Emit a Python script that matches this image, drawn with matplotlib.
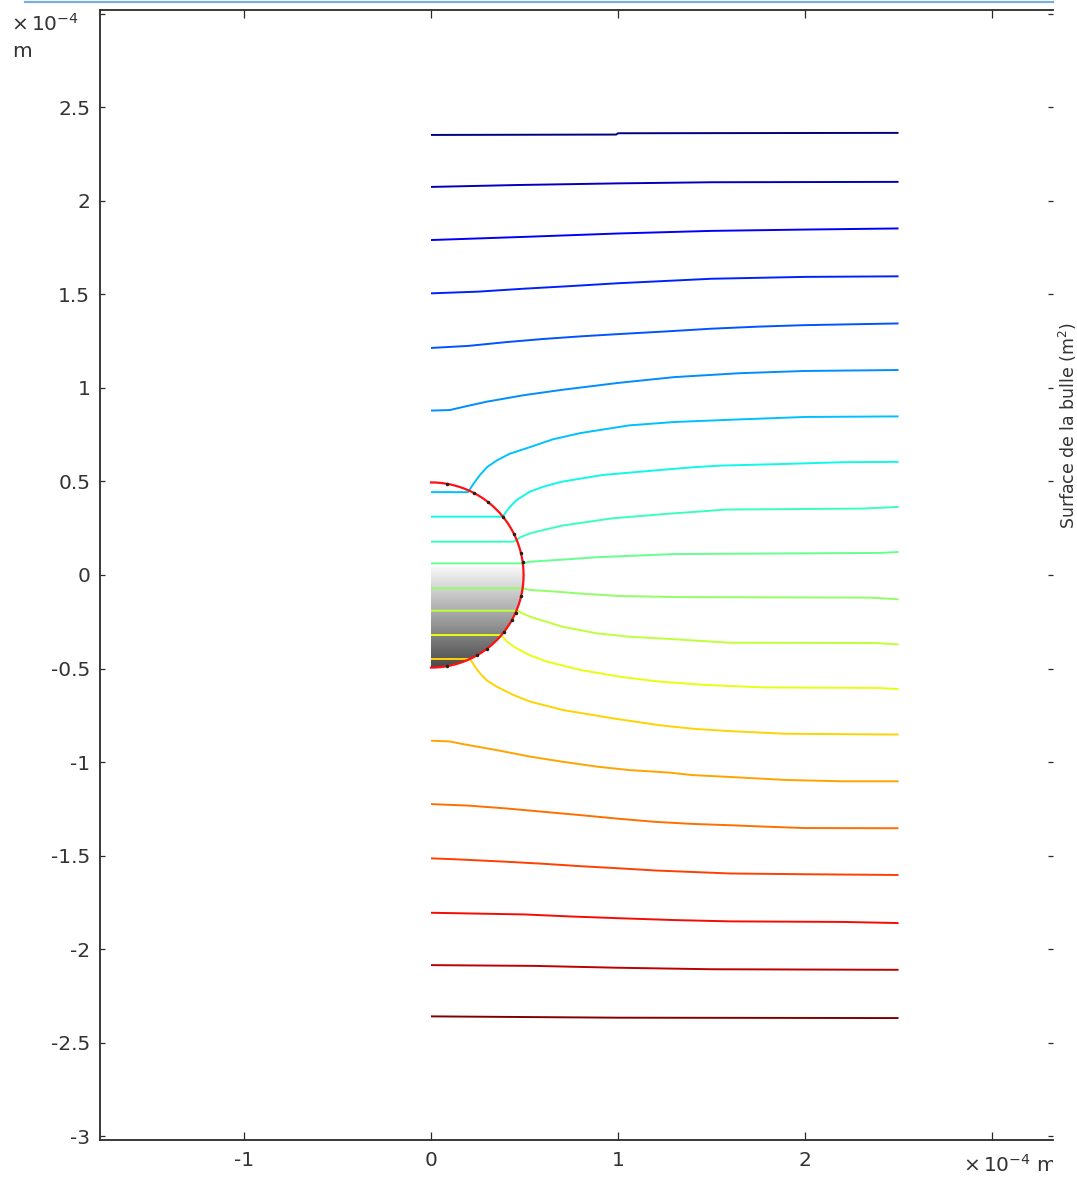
import numpy as np
import matplotlib
matplotlib.use("Agg")
import matplotlib.pyplot as plt
from matplotlib.patches import Circle
from matplotlib.lines import Line2D
from matplotlib.transforms import Bbox, TransformedBbox

plt.rcParams["axes.unicode_minus"] = False
plt.rcParams["font.family"] = ["DejaVu Sans"]

# Streamlines (coordinates in units of 1e-4 m), listed from top to bottom
sl01_x = [0, 0.99, 1.0, 2.5]
sl01_y = [2.353, 2.355, 2.362, 2.364]
sl02_x = [0, 0.45, 1.0, 1.5, 2.5]
sl02_y = [2.075, 2.085, 2.094, 2.100, 2.102]
sl03_x = [0, 0.5, 1.0, 1.5, 2.0, 2.5]
sl03_y = [1.791, 1.808, 1.826, 1.840, 1.847, 1.853]
sl04_x = [0, 0.25, 0.5, 0.75, 1.0, 1.25, 1.5, 2.0, 2.5]
sl04_y = [1.506, 1.515, 1.531, 1.545, 1.560, 1.572, 1.584, 1.594, 1.597]
sl05_x = [0, 0.2, 0.4, 0.6, 0.8, 1.0, 1.25, 1.5, 1.75, 2.0, 2.5]
sl05_y = [1.214, 1.225, 1.245, 1.262, 1.276, 1.288, 1.302, 1.317, 1.328, 1.336, 1.345]
sl06_x = [0, 0.1, 0.2, 0.3, 0.5, 0.7, 1.0, 1.3, 1.65, 2.0, 2.5]
sl06_y = [0.879, 0.882, 0.905, 0.927, 0.962, 0.990, 1.027, 1.058, 1.079, 1.091, 1.096]
sl07_x = [0, 0.198, 0.23, 0.262, 0.30, 0.351, 0.42, 0.53, 0.65, 0.8, 1.06, 1.3, 1.6, 2.0, 2.5]
sl07_y = [0.443, 0.443, 0.492, 0.535, 0.577, 0.612, 0.648, 0.684, 0.725, 0.759, 0.800, 0.818, 0.830, 0.845, 0.848]
sl08_x = [0, 0.383, 0.42, 0.458, 0.53, 0.6, 0.7, 0.92, 1.22, 1.4, 1.55, 1.9, 2.2, 2.5]
sl08_y = [0.312, 0.312, 0.362, 0.401, 0.446, 0.472, 0.499, 0.535, 0.561, 0.576, 0.585, 0.594, 0.603, 0.605]
sl09_x = [0, 0.44, 0.48, 0.53, 0.7, 0.97, 1.25, 1.58, 2.3, 2.5]
sl09_y = [0.178, 0.178, 0.203, 0.223, 0.264, 0.303, 0.326, 0.350, 0.355, 0.364]
sl10_x = [0, 0.49, 0.53, 0.7, 0.886, 1.3, 2.4, 2.5]
sl10_y = [0.062, 0.062, 0.071, 0.082, 0.095, 0.112, 0.118, 0.123]
sl11_x = [0, 0.49, 0.53, 0.67, 0.81, 1.0, 1.3, 2.35, 2.5]
sl11_y = [-0.071, -0.071, -0.080, -0.089, -0.100, -0.112, -0.118, -0.121, -0.130]
sl12_x = [0, 0.458, 0.53, 0.7, 0.886, 1.06, 1.28, 1.45, 1.6, 2.38, 2.5]
sl12_y = [-0.191, -0.191, -0.223, -0.276, -0.312, -0.330, -0.342, -0.353, -0.362, -0.364, -0.371]
sl13_x = [0, 0.373, 0.41, 0.458, 0.53, 0.62, 0.8, 1.01, 1.22, 1.47, 1.78, 2.39, 2.5]
sl13_y = [-0.321, -0.321, -0.360, -0.392, -0.430, -0.463, -0.508, -0.544, -0.570, -0.588, -0.601, -0.604, -0.610]
sl14_x = [0, 0.209, 0.235, 0.262, 0.30, 0.351, 0.44, 0.53, 0.706, 0.97, 1.22, 1.4, 1.6, 1.9, 2.5]
sl14_y = [-0.449, -0.449, -0.490, -0.526, -0.565, -0.597, -0.641, -0.677, -0.722, -0.766, -0.803, -0.822, -0.835, -0.849, -0.853]
sl15_x = [0, 0.1, 0.17, 0.35, 0.53, 0.7, 0.89, 1.06, 1.28, 1.4, 1.6, 1.9, 2.2, 2.5]
sl15_y = [-0.886, -0.890, -0.904, -0.936, -0.971, -0.998, -1.025, -1.043, -1.057, -1.070, -1.080, -1.096, -1.103, -1.103]
sl16_x = [0, 0.2, 0.4, 0.6, 0.8, 1.0, 1.2, 1.4, 1.6, 1.8, 2.0, 2.5]
sl16_y = [-1.225, -1.233, -1.248, -1.266, -1.284, -1.303, -1.320, -1.331, -1.338, -1.346, -1.353, -1.354]
sl17_x = [0, 0.13, 0.4, 0.6, 0.8, 1.0, 1.2, 1.4, 1.6, 2.0, 2.5]
sl17_y = [-1.515, -1.520, -1.533, -1.544, -1.557, -1.568, -1.580, -1.588, -1.596, -1.600, -1.604]
sl18_x = [0, 0.5, 0.75, 1.0, 1.3, 1.6, 2.2, 2.5]
sl18_y = [-1.806, -1.815, -1.826, -1.835, -1.845, -1.852, -1.855, -1.861]
sl19_x = [0, 0.55, 1.0, 1.5, 2.5]
sl19_y = [-2.086, -2.090, -2.100, -2.108, -2.111]
sl20_x = [0, 1.0, 2.5]
sl20_y = [-2.360, -2.367, -2.369]

streamlines = [
    (sl01_x, sl01_y), (sl02_x, sl02_y), (sl03_x, sl03_y), (sl04_x, sl04_y),
    (sl05_x, sl05_y), (sl06_x, sl06_y), (sl07_x, sl07_y), (sl08_x, sl08_y),
    (sl09_x, sl09_y), (sl10_x, sl10_y), (sl11_x, sl11_y), (sl12_x, sl12_y),
    (sl13_x, sl13_y), (sl14_x, sl14_y), (sl15_x, sl15_y), (sl16_x, sl16_y),
    (sl17_x, sl17_y), (sl18_x, sl18_y), (sl19_x, sl19_y), (sl20_x, sl20_y),
]

# Bubble geometry (units of 1e-4 m)
bubble_radius = 0.495
mesh_node_angles = [80, 62, 52, 39, 26, 14, 8, -13, -24, -29, -38, -53, -60, -80]

# Bubble surface field shown in grey (lower part of the bubble)
surface_top_y = 0.045
surface_bottom_y = -0.5
surface_top_level = 0.97
surface_bottom_level = 0.28

# Axis ticks
x_ticks = [-1, 0, 1, 2, 3]
x_tick_labels = ["-1", "0", "1", "2", ""]
y_ticks = [3, 2.5, 2, 1.5, 1, 0.5, 0, -0.5, -1, -1.5, -2, -2.5, -3]
y_tick_labels = ["", "2.5", "2", "1.5", "1", "0.5", "0", "-0.5", "-1", "-1.5", "-2", "-2.5", "-3"]

W, H = 1077, 1178
fig = plt.figure(figsize=(W / 100, H / 100), dpi=100)
ax = fig.add_axes([100 / W, 1 - 1140 / H, (1053 - 100) / W, (1140 - 10) / H])
ax.set_xlim(-1.770, 3.326)
ax.set_ylim(-3.021, 3.021)

# grey surface inside the bubble
levels = np.linspace(surface_top_level, surface_bottom_level, 200).reshape(-1, 1)
img = ax.imshow(levels, cmap="gray", vmin=0, vmax=1, aspect="auto",
                extent=[0, bubble_radius, surface_bottom_y, surface_top_y],
                interpolation="bilinear", zorder=1)
clip = Circle((0, 0), bubble_radius, transform=ax.transData)
img.set_clip_path(clip)

# streamlines coloured with jet, dark blue on top to dark red at bottom
cmap = plt.get_cmap("jet")
n = len(streamlines)
for i, (xs, ys) in enumerate(streamlines):
    ax.plot(xs, ys, color=cmap(i / (n - 1)), lw=1.4, zorder=2,
            solid_capstyle="butt", solid_joinstyle="round")

# bubble outline
theta = np.linspace(90, -90, 181)
ax.plot(bubble_radius * np.cos(np.radians(theta)),
        bubble_radius * np.sin(np.radians(theta)),
        color="#ff1010", lw=1.6, zorder=3)
ang = np.radians(mesh_node_angles)
ax.plot(bubble_radius * np.cos(ang), bubble_radius * np.sin(ang), ls="none",
        marker="o", ms=1.5, color="#202020", zorder=4)

# axes styling
for side in ["left", "top", "bottom"]:
    ax.spines[side].set_color("#2a2a2a")
    ax.spines[side].set_linewidth(1.3)
ax.spines["right"].set_visible(False)

ax.set_xticks(x_ticks)
ax.set_xticklabels(x_tick_labels)
ax.set_yticks(y_ticks)
ax.set_yticklabels(y_tick_labels)
ax.tick_params(axis="x", direction="in", length=5.8, width=0.9, color="#2a2a2a",
               top=True, bottom=True, labelsize=14.5, labelcolor="#333333", pad=8)
ax.tick_params(axis="y", direction="in", length=3.6, width=0.9, color="#2a2a2a",
               left=True, right=True, labelsize=14.5, labelcolor="#333333", pad=7)

# unit annotations
fig.text(11 / W, 1 - 31 / H, r"$\times\,10^{-4}$", fontsize=14.5, color="#333333",
         ha="left", va="baseline")
fig.text(12 / W, 1 - 57 / H, "m", fontsize=14.5, color="#333333",
         ha="left", va="baseline")
t = fig.text(963 / W, 1 - 1172 / H, r"$\times\,10^{-4}$ m", fontsize=14.5,
             color="#333333", ha="left", va="baseline")
t.set_clip_box(TransformedBbox(Bbox([[0, 0], [1053 / W, 1]]), fig.transFigure))
t.set_clip_on(True)

fig.text(1068 / W, 1 - 425 / H, "Surface de la bulle (m$^2$)", fontsize=12.5,
         color="#333333", rotation=90, ha="center", va="center")

# thin header bar
fig.add_artist(Line2D([25 / W, 1053 / W], [1 - 1.5 / H, 1 - 1.5 / H],
                      transform=fig.transFigure, color="#7aaedc", lw=1.6))

fig.savefig("out.png", dpi=100)
